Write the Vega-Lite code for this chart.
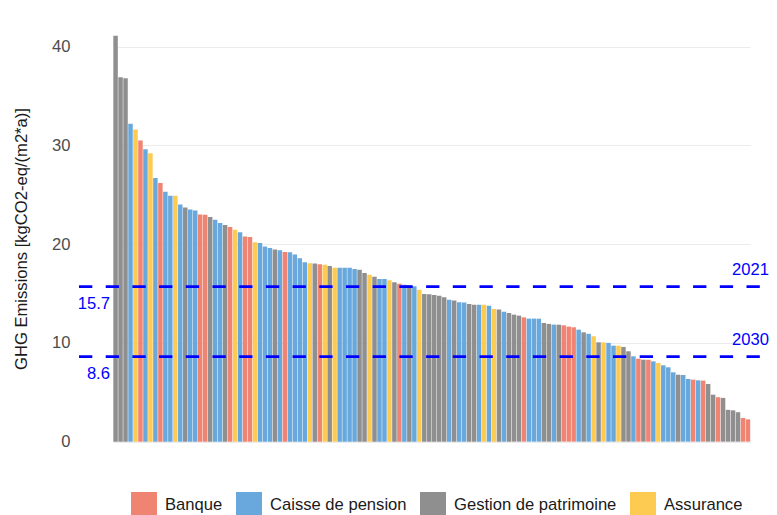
{
  "$schema": "https://vega.github.io/schema/vega-lite/v6.json",
  "width": 691,
  "height": 447,
  "autosize": {"type": "none"},
  "padding": {"left": 79, "top": 15, "right": 7, "bottom": 53},
  "background": "white",
  "config": {
    "view": {"stroke": null},
    "font": "Liberation Sans",
    "axis": {"labelFont": "Liberation Sans", "titleFont": "Liberation Sans"}
  },
  "datasets": {
    "bars": [
      {"rank": 1, "value": 41.1, "type": "Gestion de patrimoine"},
      {"rank": 2, "value": 36.9, "type": "Gestion de patrimoine"},
      {"rank": 3, "value": 36.8, "type": "Gestion de patrimoine"},
      {"rank": 4, "value": 32.2, "type": "Caisse de pension"},
      {"rank": 5, "value": 31.6, "type": "Assurance"},
      {"rank": 6, "value": 30.5, "type": "Banque"},
      {"rank": 7, "value": 29.6, "type": "Caisse de pension"},
      {"rank": 8, "value": 29.2, "type": "Assurance"},
      {"rank": 9, "value": 26.7, "type": "Caisse de pension"},
      {"rank": 10, "value": 26.2, "type": "Banque"},
      {"rank": 11, "value": 25.3, "type": "Caisse de pension"},
      {"rank": 12, "value": 24.9, "type": "Caisse de pension"},
      {"rank": 13, "value": 24.9, "type": "Assurance"},
      {"rank": 14, "value": 24.0, "type": "Caisse de pension"},
      {"rank": 15, "value": 23.7, "type": "Gestion de patrimoine"},
      {"rank": 16, "value": 23.5, "type": "Caisse de pension"},
      {"rank": 17, "value": 23.4, "type": "Caisse de pension"},
      {"rank": 18, "value": 23.0, "type": "Banque"},
      {"rank": 19, "value": 22.97, "type": "Banque"},
      {"rank": 20, "value": 22.75, "type": "Gestion de patrimoine"},
      {"rank": 21, "value": 22.48, "type": "Caisse de pension"},
      {"rank": 22, "value": 22.14, "type": "Caisse de pension"},
      {"rank": 23, "value": 21.94, "type": "Gestion de patrimoine"},
      {"rank": 24, "value": 21.74, "type": "Banque"},
      {"rank": 25, "value": 21.45, "type": "Assurance"},
      {"rank": 26, "value": 21.2, "type": "Caisse de pension"},
      {"rank": 27, "value": 20.76, "type": "Banque"},
      {"rank": 28, "value": 20.72, "type": "Banque"},
      {"rank": 29, "value": 20.18, "type": "Assurance"},
      {"rank": 30, "value": 20.11, "type": "Caisse de pension"},
      {"rank": 31, "value": 19.76, "type": "Caisse de pension"},
      {"rank": 32, "value": 19.62, "type": "Caisse de pension"},
      {"rank": 33, "value": 19.46, "type": "Gestion de patrimoine"},
      {"rank": 34, "value": 19.38, "type": "Caisse de pension"},
      {"rank": 35, "value": 19.2, "type": "Banque"},
      {"rank": 36, "value": 19.18, "type": "Caisse de pension"},
      {"rank": 37, "value": 18.94, "type": "Caisse de pension"},
      {"rank": 38, "value": 18.57, "type": "Caisse de pension"},
      {"rank": 39, "value": 18.16, "type": "Caisse de pension"},
      {"rank": 40, "value": 18.06, "type": "Assurance"},
      {"rank": 41, "value": 18.05, "type": "Gestion de patrimoine"},
      {"rank": 42, "value": 17.96, "type": "Banque"},
      {"rank": 43, "value": 17.9, "type": "Assurance"},
      {"rank": 44, "value": 17.79, "type": "Gestion de patrimoine"},
      {"rank": 45, "value": 17.62, "type": "Assurance"},
      {"rank": 46, "value": 17.6, "type": "Caisse de pension"},
      {"rank": 47, "value": 17.6, "type": "Caisse de pension"},
      {"rank": 48, "value": 17.6, "type": "Caisse de pension"},
      {"rank": 49, "value": 17.49, "type": "Caisse de pension"},
      {"rank": 50, "value": 17.41, "type": "Gestion de patrimoine"},
      {"rank": 51, "value": 17.08, "type": "Gestion de patrimoine"},
      {"rank": 52, "value": 16.9, "type": "Assurance"},
      {"rank": 53, "value": 16.69, "type": "Gestion de patrimoine"},
      {"rank": 54, "value": 16.47, "type": "Caisse de pension"},
      {"rank": 55, "value": 16.46, "type": "Caisse de pension"},
      {"rank": 56, "value": 16.35, "type": "Assurance"},
      {"rank": 57, "value": 16.13, "type": "Gestion de patrimoine"},
      {"rank": 58, "value": 16.0, "type": "Banque"},
      {"rank": 59, "value": 15.88, "type": "Caisse de pension"},
      {"rank": 60, "value": 15.84, "type": "Gestion de patrimoine"},
      {"rank": 61, "value": 15.73, "type": "Caisse de pension"},
      {"rank": 62, "value": 15.39, "type": "Assurance"},
      {"rank": 63, "value": 14.95, "type": "Gestion de patrimoine"},
      {"rank": 64, "value": 14.92, "type": "Gestion de patrimoine"},
      {"rank": 65, "value": 14.85, "type": "Gestion de patrimoine"},
      {"rank": 66, "value": 14.78, "type": "Gestion de patrimoine"},
      {"rank": 67, "value": 14.62, "type": "Gestion de patrimoine"},
      {"rank": 68, "value": 14.38, "type": "Caisse de pension"},
      {"rank": 69, "value": 14.28, "type": "Gestion de patrimoine"},
      {"rank": 70, "value": 14.12, "type": "Caisse de pension"},
      {"rank": 71, "value": 14.08, "type": "Caisse de pension"},
      {"rank": 72, "value": 13.95, "type": "Gestion de patrimoine"},
      {"rank": 73, "value": 13.87, "type": "Gestion de patrimoine"},
      {"rank": 74, "value": 13.87, "type": "Caisse de pension"},
      {"rank": 75, "value": 13.85, "type": "Assurance"},
      {"rank": 76, "value": 13.77, "type": "Caisse de pension"},
      {"rank": 77, "value": 13.43, "type": "Assurance"},
      {"rank": 78, "value": 13.37, "type": "Gestion de patrimoine"},
      {"rank": 79, "value": 13.16, "type": "Caisse de pension"},
      {"rank": 80, "value": 13.03, "type": "Gestion de patrimoine"},
      {"rank": 81, "value": 12.86, "type": "Gestion de patrimoine"},
      {"rank": 82, "value": 12.76, "type": "Gestion de patrimoine"},
      {"rank": 83, "value": 12.59, "type": "Banque"},
      {"rank": 84, "value": 12.46, "type": "Caisse de pension"},
      {"rank": 85, "value": 12.46, "type": "Caisse de pension"},
      {"rank": 86, "value": 12.45, "type": "Caisse de pension"},
      {"rank": 87, "value": 12.02, "type": "Gestion de patrimoine"},
      {"rank": 88, "value": 11.92, "type": "Gestion de patrimoine"},
      {"rank": 89, "value": 11.85, "type": "Caisse de pension"},
      {"rank": 90, "value": 11.84, "type": "Gestion de patrimoine"},
      {"rank": 91, "value": 11.78, "type": "Banque"},
      {"rank": 92, "value": 11.65, "type": "Banque"},
      {"rank": 93, "value": 11.58, "type": "Banque"},
      {"rank": 94, "value": 11.34, "type": "Caisse de pension"},
      {"rank": 95, "value": 11.07, "type": "Gestion de patrimoine"},
      {"rank": 96, "value": 10.92, "type": "Caisse de pension"},
      {"rank": 97, "value": 10.67, "type": "Assurance"},
      {"rank": 98, "value": 10.06, "type": "Gestion de patrimoine"},
      {"rank": 99, "value": 10.05, "type": "Assurance"},
      {"rank": 100, "value": 10.0, "type": "Caisse de pension"},
      {"rank": 101, "value": 9.72, "type": "Caisse de pension"},
      {"rank": 102, "value": 9.71, "type": "Assurance"},
      {"rank": 103, "value": 9.59, "type": "Gestion de patrimoine"},
      {"rank": 104, "value": 9.15, "type": "Gestion de patrimoine"},
      {"rank": 105, "value": 8.64, "type": "Caisse de pension"},
      {"rank": 106, "value": 8.4, "type": "Banque"},
      {"rank": 107, "value": 8.3, "type": "Gestion de patrimoine"},
      {"rank": 108, "value": 8.29, "type": "Banque"},
      {"rank": 109, "value": 8.13, "type": "Caisse de pension"},
      {"rank": 110, "value": 7.97, "type": "Assurance"},
      {"rank": 111, "value": 7.73, "type": "Caisse de pension"},
      {"rank": 112, "value": 7.53, "type": "Caisse de pension"},
      {"rank": 113, "value": 7.02, "type": "Caisse de pension"},
      {"rank": 114, "value": 6.78, "type": "Gestion de patrimoine"},
      {"rank": 115, "value": 6.75, "type": "Caisse de pension"},
      {"rank": 116, "value": 6.35, "type": "Caisse de pension"},
      {"rank": 117, "value": 6.28, "type": "Banque"},
      {"rank": 118, "value": 6.21, "type": "Caisse de pension"},
      {"rank": 119, "value": 6.18, "type": "Banque"},
      {"rank": 120, "value": 5.84, "type": "Gestion de patrimoine"},
      {"rank": 121, "value": 4.76, "type": "Gestion de patrimoine"},
      {"rank": 122, "value": 4.5, "type": "Banque"},
      {"rank": 123, "value": 4.43, "type": "Gestion de patrimoine"},
      {"rank": 124, "value": 3.22, "type": "Gestion de patrimoine"},
      {"rank": 125, "value": 3.17, "type": "Gestion de patrimoine"},
      {"rank": 126, "value": 2.98, "type": "Gestion de patrimoine"},
      {"rank": 127, "value": 2.4, "type": "Banque"},
      {"rank": 128, "value": 2.26, "type": "Banque"}
    ],
    "targets": [
      {"target": 15.7, "year": "2021"},
      {"target": 8.6, "year": "2030"}
    ]
  },
  "layer": [
    {
      "data": {"name": "bars"},
      "mark": {"type": "bar"},
      "encoding": {
        "x": {
          "field": "rank",
          "type": "ordinal",
          "axis": null,
          "scale": {"range": [34.33, 671.2], "paddingInner": 0.1, "paddingOuter": 0}
        },
        "y": {
          "field": "value",
          "type": "quantitative",
          "scale": {"domain": [-2.06, 43.2], "nice": false, "zero": false},
          "axis": {
            "title": "GHG Emissions [kgCO2-eq/(m2*a)]",
            "titleFontSize": 16.6,
            "titleFontWeight": "normal",
            "titleColor": "#1a1a1a",
            "titlePadding": 22,
            "values": [0, 10, 20, 30, 40],
            "labelFontSize": 16.6,
            "labelColor": "#4d4d4d",
            "labelPadding": 9,
            "ticks": false,
            "domain": false,
            "grid": true,
            "gridColor": "#ebebeb",
            "gridWidth": 1.1
          }
        },
        "color": {
          "field": "type",
          "type": "nominal",
          "scale": {
            "domain": ["Banque", "Caisse de pension", "Gestion de patrimoine", "Assurance"],
            "range": ["#f08472", "#68a8dc", "#8f8f8f", "#fdca52"]
          },
          "legend": {
            "title": null,
            "orient": "none",
            "legendX": 52,
            "legendY": 477,
            "direction": "horizontal",
            "symbolType": "square",
            "symbolSize": 676,
            "symbolStrokeWidth": 0,
            "labelFontSize": 16.6,
            "labelColor": "#1a1a1a",
            "labelOffset": 8,
            "labelLimit": 400,
            "columnPadding": 13,
            "padding": 0
          }
        }
      }
    },
    {
      "data": {"name": "targets"},
      "mark": {"type": "rule", "color": "#0000ff", "strokeWidth": 2.8, "strokeDash": [13.3, 13.4]},
      "encoding": {
        "x": {"value": 0},
        "x2": {"value": "width"},
        "y": {"field": "target", "type": "quantitative"}
      }
    },
    {
      "data": {"name": "targets"},
      "mark": {"type": "text", "color": "#0000ff", "fontSize": 16.6, "align": "right", "baseline": "middle", "dx": -5.6, "dy": 17},
      "encoding": {
        "x": {"datum": 1, "type": "ordinal"},
        "y": {"field": "target", "type": "quantitative"},
        "text": {"field": "target", "type": "quantitative", "format": ".1f"}
      }
    },
    {
      "data": {"name": "targets"},
      "mark": {"type": "text", "color": "#0000ff", "fontSize": 16.6, "align": "right", "baseline": "middle", "dx": 21, "dy": -17},
      "encoding": {
        "x": {"datum": 128, "type": "ordinal"},
        "y": {"field": "target", "type": "quantitative"},
        "text": {"field": "year", "type": "nominal"}
      }
    }
  ]
}
